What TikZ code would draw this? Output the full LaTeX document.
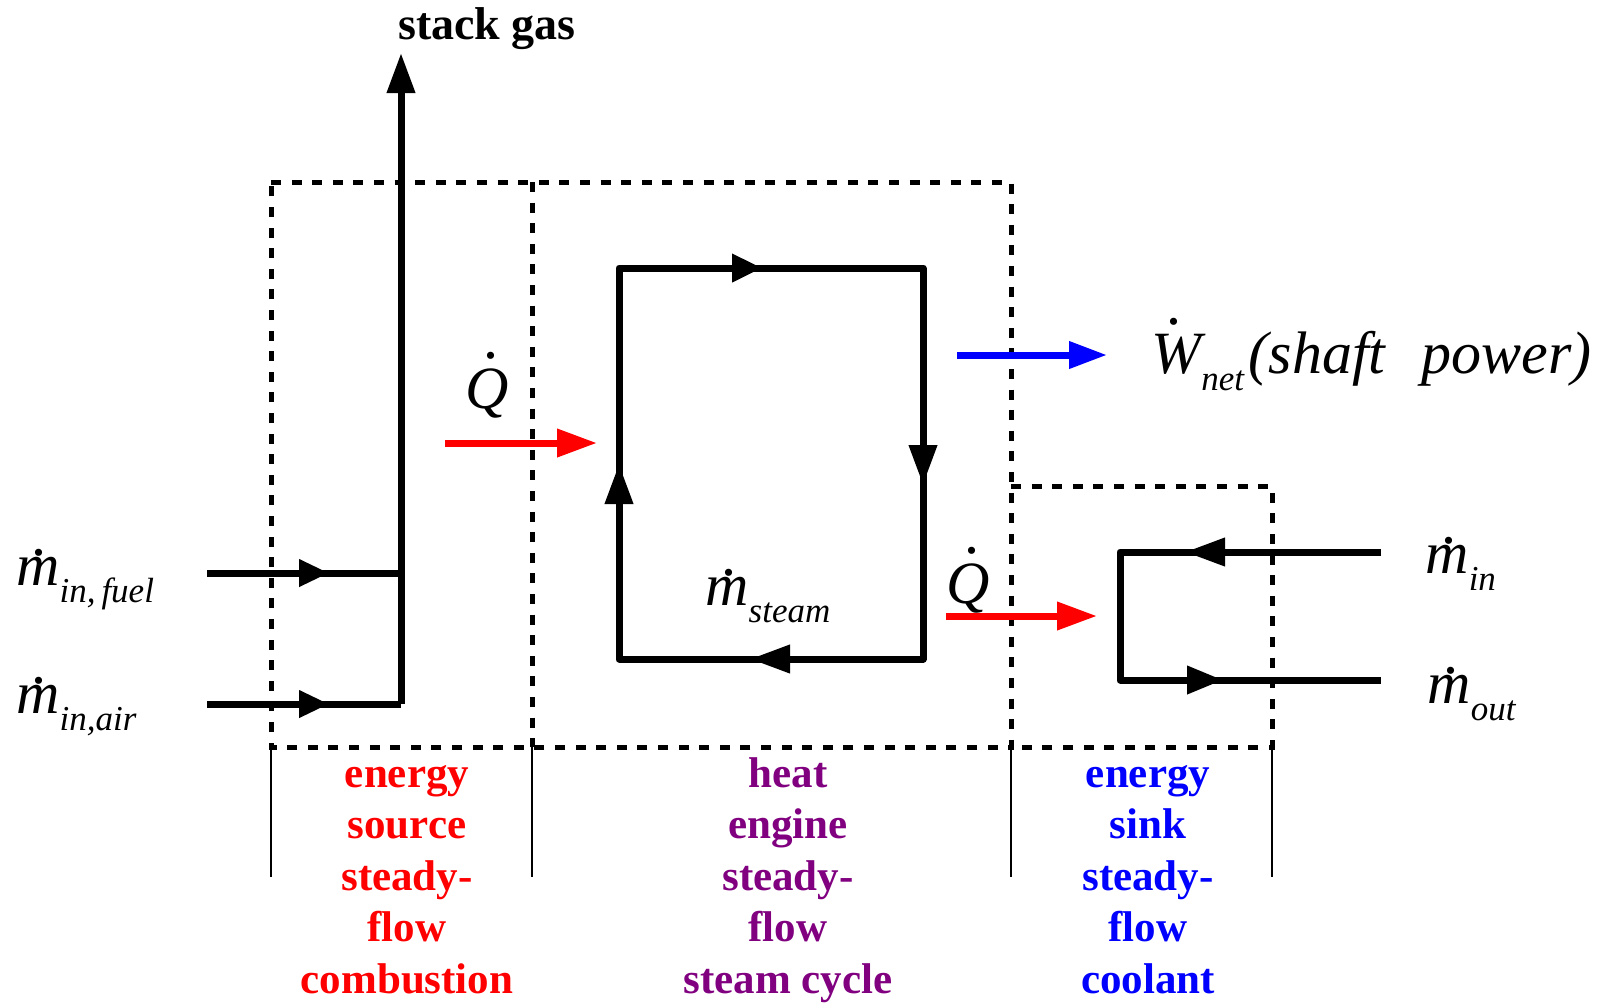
\documentclass[tikz,border=0pt]{standalone}
\usepackage{fontspec}
\setmainfont{Liberation Serif}
\usetikzlibrary{arrows.meta,decorations.markings}
\definecolor{engred}{RGB}{255,0,0}
\definecolor{engpurple}{RGB}{128,0,128}
\definecolor{engblue}{RGB}{0,0,255}
\newcommand\dotacc[3]{\leavevmode\rlap{\hspace*{#2}\raisebox{#3}{\upshape.}}#1}
\newcommand\subtxt[1]{\raisebox{-8.5pt}{\fontsize{17.5}{17.5}\selectfont\itshape #1}}
\newcommand\mdotsym{\dotacc{m}{0.26em}{0.5em}}
\tikzset{
  pipe/.style={line width=3.5pt, line join=round},
  bound/.style={line width=2.5pt, dash pattern=on 5pt off 5.3pt},
  divline/.style={line width=0.8pt},
  heatflow/.style={line width=3.5pt, engred, -{Triangle[length=20pt,width=13.5pt]}},
  workflow/.style={line width=3.5pt, engblue, -{Triangle[length=19pt,width=13pt]}},
  marks/.style={postaction={decorate}, decoration={markings, #1}},
  mlabel/.style={inner sep=0pt, anchor=base west, font=\fontsize{30}{30}\selectfont\itshape},
  collabel/.style={inner sep=0pt, anchor=north, align=center, font=\fontsize{21.5}{25.75}\selectfont\bfseries},
}
\begin{document}
\begin{tikzpicture}[x=0.5pt,y=-0.5pt]
\useasboundingbox (0,0) rectangle (1604,1002);

% control volume boundaries
\coordinate (bTL) at (271,182);
\coordinate (bTM) at (532,182);
\coordinate (bTR) at (1011,182);
\coordinate (bBL) at (271,747);
\coordinate (bBM) at (532,747);
\coordinate (bBR) at (1011,747);
\coordinate (sTL) at (1011,486);
\coordinate (sTR) at (1272,486);
\coordinate (sBR) at (1272,747);
\draw[bound] (bTL) -- (bTR) -- (bBR) -- (bBL) -- cycle;
\draw[bound] (bTM) -- (bBM);
\draw[bound] (sTL) -- (sTR) -- (sBR) -- (bBR);

% thin dividers below
\coordinate (d1) at (271,877);
\coordinate (d2) at (532,877);
\coordinate (d3) at (1011,877);
\coordinate (d4) at (1272,877);
\draw[divline] (bBL) -- (d1);
\draw[divline] (bBM) -- (d2);
\draw[divline] (bBR) -- (d3);
\draw[divline] (sBR) -- (d4);

% combustion inputs and stack
\coordinate (fuelIn) at (207,573);
\coordinate (fuelJ) at (401,573);
\coordinate (airIn) at (207,704);
\coordinate (airJ) at (401,704);
\coordinate (stackTop) at (401,53);
\draw[pipe, marks={mark=at position 61pt with {\arrow{Triangle[length=15pt,width=13pt]}}}] (fuelIn) -- (fuelJ);
\draw[pipe, marks={mark=at position 61pt with {\arrow{Triangle[length=15pt,width=13pt]}}}] (airIn) -- (airJ);
\draw[pipe, -{Triangle[length=20pt,width=13.5pt]}] (airJ) -- (stackTop);
\node[inner sep=0pt, anchor=base, font=\fontsize{23}{23}\selectfont\bfseries] (stack) at (487,39) {stack gas};

\node[mlabel] (lfuel) at (16,585) {\mdotsym\subtxt{in,\,fuel}};
\node[mlabel] (lair) at (16,713) {\mdotsym\subtxt{in,air}};

% heat in
\coordinate (qinA) at (445,443);
\coordinate (qinB) at (597,443);
\draw[heatflow] (qinA) -- (qinB);
\node[mlabel] (qin) at (465,408) {\dotacc{Q}{0.30em}{0.83em}};

% steam loop
\coordinate (lBL) at (619,659);
\coordinate (lTL) at (619,268);
\coordinate (lTR) at (923,268);
\coordinate (lBR) at (923,659);
\draw[pipe, marks={
    mark=at position 97.5pt with {\arrow{Triangle[length=20pt,width=13.5pt]}},
    mark=at position 267pt with {\arrow{Triangle[length=15pt,width=13.5pt]}},
    mark=at position 456pt with {\arrow{Triangle[length=20pt,width=13.5pt]}},
    mark=at position 629.5pt with {\arrow{Triangle[length=20pt,width=13.5pt]}}}]
  (lBL) -- (lTL) -- (lTR) -- (lBR) -- cycle;
\node[mlabel] (msteam) at (705,605) {\mdotsym\subtxt{steam}};

% work out
\coordinate (wA) at (957,355);
\coordinate (wB) at (1107,355);
\draw[workflow] (wA) -- (wB);
\node[mlabel] (wnet) at (1151,373) {\dotacc{W}{0.25em}{0.81em}\subtxt{net}\hspace{0.08em}(shaft\hspace{0.6em}power)};

% heat out
\coordinate (qoutA) at (946,616);
\coordinate (qoutB) at (1097,616);
\draw[heatflow] (qoutA) -- (qoutB);
\node[mlabel] (qout) at (946,603) {\dotacc{Q}{0.30em}{0.83em}};

% coolant
\coordinate (cIn) at (1381,552);
\coordinate (cTL) at (1120,552);
\coordinate (cBL) at (1120,680);
\coordinate (cOut) at (1381,680);
\draw[pipe, marks={
    mark=at position 98pt with {\arrow{Triangle[length=20pt,width=13.5pt]}},
    mark=at position 246pt with {\arrow{Triangle[length=18pt,width=13.5pt]}}}]
  (cIn) -- (cTL) -- (cBL) -- (cOut);
\node[mlabel] (lmin) at (1425,573) {\mdotsym\subtxt{in}};
\node[mlabel] (lmout) at (1427,703) {\mdotsym\subtxt{out}};

% column labels
\node[collabel, text=engred] (csource) at (407,755) {\rule{0pt}{16pt}energy\\source\\steady-\\flow\\combustion};
\node[collabel, text=engpurple] (cengine) at (788,755) {\rule{0pt}{16pt}heat\\engine\\steady-\\flow\\steam cycle};
\node[collabel, text=engblue] (csink) at (1148,755) {\rule{0pt}{16pt}energy\\sink\\steady-\\flow\\coolant};
\end{tikzpicture}
\end{document}
